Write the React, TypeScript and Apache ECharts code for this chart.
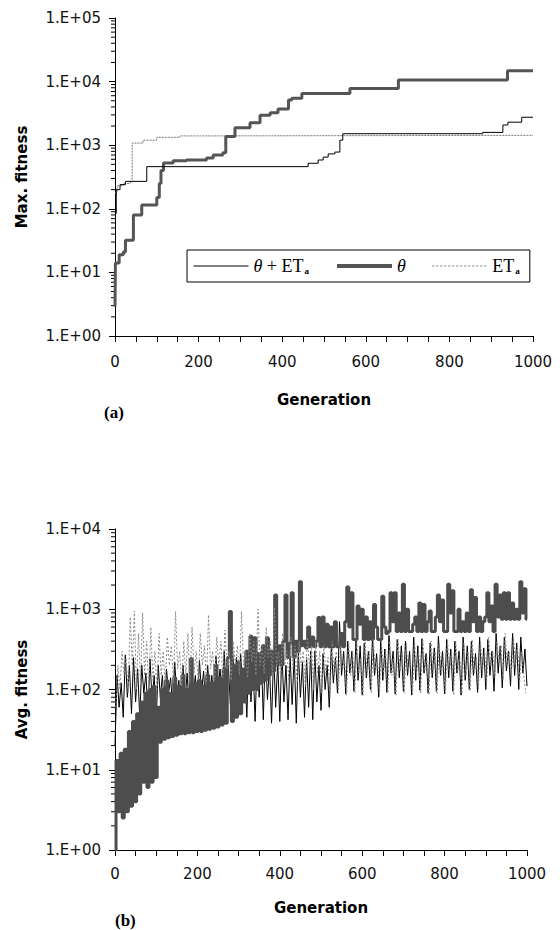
import React, { useEffect, useRef } from 'react';
import * as echarts from 'echarts';

// ---------- (a) Max. fitness : step series, [generation, value] ----------
const MAX_SUM: [number, number][] = [
  [0, 85], [3, 200], [12, 240], [25, 270], [76, 460], [462, 520], [486, 585], [498, 650],
  [510, 730], [526, 780], [538, 1200], [545, 1515], [880, 1590], [928, 2080], [940, 2300],
  [973, 2750], [1000, 2750],
];
const MAX_THETA: [number, number][] = [
  [0, 2.9], [1, 14], [10, 19], [20, 21], [25, 32], [44, 80], [64, 115], [100, 150], [106, 250],
  [110, 400], [116, 525], [139, 570], [171, 585], [219, 630], [235, 700], [258, 760], [265, 1370],
  [287, 1880], [323, 2250], [347, 2950], [371, 3250], [390, 3700], [415, 5130], [423, 5460],
  [447, 6500], [562, 7800], [678, 10600], [939, 14800], [1000, 14800],
];
const MAX_ET: [number, number][] = [
  [0, 180], [5, 230], [20, 250], [36, 265], [41, 1080], [67, 1200], [100, 1330], [155, 1400],
  [230, 1430], [1000, 1430],
];

// ---------- (b) Avg. fitness ----------
// theta: generations 0,5,10,...,1000
const AVG_THETA_STEP = 5;
const AVG_THETA: number[] = [
  1, 13, 3, 16, 2.5, 18, 3, 30, 3.5, 40, 4, 50, 5, 70, 7, 90, 6, 100, 7, 110,
  8, 60, 22, 100, 24, 130, 25, 90, 26, 140, 27, 110, 28, 150, 28, 100, 29, 240, 29, 120,
  30, 130, 30, 110, 31, 150, 32, 120, 33, 200, 34, 140, 36, 180, 38, 250, 940, 40, 200, 45,
  220, 50, 180, 70, 300, 90, 460, 100, 440, 100, 280, 120, 350, 130, 440, 150, 300, 170, 1500, 200,
  350, 200, 400, 1500, 250, 380, 1600, 250, 400, 300, 2200, 350, 400, 330, 600, 340, 450, 340, 400, 790,
  340, 800, 340, 650, 340, 600, 340, 700, 340, 340, 500, 340, 700, 1900, 600, 1600, 420, 420, 1100, 650,
  1000, 420, 800, 420, 700, 420, 1150, 600, 420, 420, 1450, 600, 500, 530, 1600, 700, 1600, 530, 900, 530,
  2050, 530, 1000, 530, 530, 650, 800, 530, 1200, 530, 1150, 530, 700, 950, 530, 530, 800, 1500, 700, 1300,
  530, 530, 2050, 900, 1700, 530, 530, 1000, 530, 700, 530, 900, 530, 1750, 700, 1400, 530, 800, 530, 700,
  800, 1600, 700, 1100, 530, 2050, 800, 1500, 750, 1600, 750, 1600, 750, 1200, 750, 1000, 750, 2200, 900, 1800,
  750,
];
// theta + ETa: generations 0,5,...,1000
const AVG_SUM_STEP = 5;
const AVG_SUM: number[] = [
  20, 150, 60, 120, 45, 270, 80, 200, 50, 250, 70, 180, 45, 200, 90, 160, 50, 240, 70, 150,
  40, 200, 80, 150, 55, 180, 90, 140, 60, 220, 80, 130, 55, 200, 70, 160, 60, 250, 85, 150,
  60, 230, 90, 170, 65, 200, 80, 150, 70, 260, 100, 180, 70, 300, 90, 200, 65, 350, 110, 250,
  60, 280, 90, 180, 45, 300, 70, 220, 40, 250, 80, 300, 42, 300, 75, 200, 38, 280, 60, 230,
  40, 300, 70, 200, 42, 260, 65, 280, 38, 300, 80, 220, 45, 250, 60, 300, 42, 300, 70, 200,
  55, 280, 100, 200, 60, 350, 120, 250, 90, 700, 150, 300, 88, 400, 160, 300, 95, 420, 130, 350,
  85, 380, 140, 300, 100, 450, 150, 280, 80, 400, 130, 320, 92, 470, 160, 300, 88, 420, 140, 350,
  95, 400, 150, 300, 85, 450, 130, 350, 98, 430, 160, 280, 90, 380, 140, 330, 95, 460, 150, 300,
  88, 420, 140, 320, 95, 400, 160, 300, 85, 450, 130, 350, 100, 400, 150, 280, 92, 450, 140, 330,
  100, 420, 150, 300, 95, 500, 160, 350, 105, 450, 170, 300, 110, 500, 150, 380, 100, 450, 160, 320,
  110,
];
// ETa: generations 2,7,...,997
const AVG_ET_START = 2;
const AVG_ET_STEP = 5;
const AVG_ET: number[] = [
  60, 200, 100, 300, 150, 250, 90, 800, 200, 950, 100, 500, 120, 900, 150, 400, 100, 600, 130, 300,
  100, 500, 150, 300, 110, 450, 200, 350, 120, 940, 180, 300, 110, 400, 150, 500, 120, 600, 160, 300,
  130, 500, 200, 350, 120, 850, 180, 300, 130, 450, 200, 400, 140, 550, 180, 300, 130, 400, 200, 350,
  150, 940, 200, 300, 140, 500, 220, 400, 150, 1000, 200, 350, 160, 600, 250, 400, 150, 1050, 200, 300,
  140, 500, 200, 300, 130, 450, 180, 350, 120, 400, 200, 300, 110, 450, 180, 350, 100, 400, 160, 300,
  90, 350, 160, 250, 80, 400, 150, 300, 90, 350, 170, 250, 85, 400, 150, 300, 90, 380, 160, 250,
  85, 400, 150, 300, 90, 420, 170, 250, 85, 380, 160, 300, 90, 400, 150, 250, 85, 420, 170, 300,
  90, 380, 160, 250, 85, 400, 150, 300, 90, 420, 170, 250, 85, 400, 160, 300, 90, 380, 150, 250,
  90, 420, 160, 300, 85, 400, 170, 250, 90, 380, 150, 300, 95, 420, 160, 250, 100, 400, 170, 300,
  120, 450, 200, 300, 140, 400, 220, 350, 130, 500, 200, 300, 150, 450, 200, 350, 120, 300, 150, 90,
];

// axis decorations
const X_LABELS = [0, 200, 400, 600, 800, 1000];
const MINOR_MULTS = [2, 3, 4, 5, 6, 7, 8, 9];
const DECADES_A = [1, 10, 100, 1000, 10000];
const DECADES_B = [1, 10, 100, 1000];

const SANS = '"DejaVu Sans", sans-serif';
const SERIF = '"Liberation Serif", "Times New Roman", serif';

const expLabel = (v: number) => {
  const e = Math.round(Math.log10(v));
  return '1.E+' + (e < 10 ? '0' : '') + e;
};

const mkX = (gi: number, margin: number, gap: number) => ({
  type: 'value',
  gridIndex: gi,
  min: 0,
  max: 1000,
  interval: 50,
  name: 'Generation',
  nameLocation: 'middle',
  nameGap: gap,
  nameTextStyle: { fontFamily: SANS, fontWeight: 'bold', fontSize: 15, color: '#000' },
  axisLine: { show: true, onZero: false, lineStyle: { color: '#000', width: 1 } },
  axisTick: { show: true, inside: false, length: 6, lineStyle: { color: '#000', width: 1 } },
  axisLabel: {
    margin,
    fontFamily: SANS,
    fontSize: 15,
    color: '#111',
    hideOverlap: false,
    formatter: (v: number) => (X_LABELS.indexOf(v) >= 0 ? String(v) : ''),
  },
  splitLine: { show: false },
});

const mkY = (gi: number, max: number, name: string) => ({
  type: 'log',
  logBase: 10,
  gridIndex: gi,
  min: 1,
  max,
  name,
  nameLocation: 'middle',
  nameGap: 86,
  nameRotate: 90,
  nameTextStyle: { fontFamily: SANS, fontWeight: 'bold', fontSize: 15, color: '#000' },
  axisLine: { show: true, lineStyle: { color: '#000', width: 1 } },
  axisTick: { show: true, inside: false, length: 6, lineStyle: { color: '#000', width: 1 } },
  axisLabel: { margin: 14, fontFamily: SANS, fontSize: 15, color: '#111', formatter: expLabel },
  splitLine: { show: false },
  minorTick: { show: false },
});

const minorTicks = (gi: number, decades: number[]) => ({
  type: 'custom',
  xAxisIndex: gi,
  yAxisIndex: gi,
  clip: false,
  silent: true,
  z: 1,
  data: decades.flatMap((d) => MINOR_MULTS.map((m) => [0, m * d])),
  renderItem: (_p: any, api: any) => {
    const p = api.coord([api.value(0), api.value(1)]);
    return {
      type: 'line',
      shape: { x1: p[0] - 4, y1: p[1], x2: p[0], y2: p[1] },
      style: { stroke: '#000', lineWidth: 1 },
    };
  },
});

const legendNames: Record<string, string> = {
  'θ+ETa': '{i|θ}{t| + ET}{s|a}',
  'θ': '{i|θ}',
  'ETa': '{t|ET}{s|a}',
};

const hiddenSymbol = { color: 'rgba(0,0,0,0)', borderColor: 'rgba(0,0,0,0)', borderWidth: 0, opacity: 0 };

const option: any = {
  animation: false,
  backgroundColor: '#fff',
  legend: {
    data: [
      { name: 'θ+ETa', itemStyle: hiddenSymbol, lineStyle: { color: '#000', width: 1 } },
      { name: 'θ', itemStyle: hiddenSymbol, lineStyle: { color: '#555', width: 4 } },
      { name: 'ETa', itemStyle: hiddenSymbol, lineStyle: { color: '#777', width: 1, type: [2, 2] } },
    ],
    left: 187,
    top: 250,
    orient: 'horizontal',
    padding: [7, 10, 7, 6],
    borderColor: '#000',
    borderWidth: 1,
    itemWidth: 55,
    itemHeight: 14,
    itemGap: 26,
    selectedMode: false,
    formatter: (n: string) => legendNames[n] || n,
    textStyle: {
      fontFamily: SERIF,
      fontSize: 18,
      color: '#000',
      rich: {
        i: { fontFamily: SERIF, fontStyle: 'italic', fontSize: 18, color: '#000' },
        t: { fontFamily: SERIF, fontSize: 18, color: '#000' },
        s: { fontFamily: SERIF, fontSize: 9, fontWeight: 'bold', color: '#000', verticalAlign: 'bottom', padding: [8, 0, 0, 1] },
      },
    },
  },
  grid: [
    { left: 115, top: 18, width: 418, height: 318, outerBoundsMode: 'none', containLabel: false },
    { left: 115, top: 529, width: 412, height: 321, outerBoundsMode: 'none', containLabel: false },
  ],
  xAxis: [mkX(0, 18, 56), mkX(1, 16, 50)],
  yAxis: [mkY(0, 100000, 'Max. fitness'), mkY(1, 10000, 'Avg. fitness')],
  series: [
    {
      name: 'θ+ETa', type: 'line', xAxisIndex: 0, yAxisIndex: 0, data: MAX_SUM, step: 'end',
      symbol: 'none', showSymbol: false, z: 4,
      lineStyle: { color: '#000', width: 1 }, itemStyle: { color: '#000' },
    },
    {
      name: 'θ', type: 'line', xAxisIndex: 0, yAxisIndex: 0, data: MAX_THETA, step: 'end',
      symbol: 'none', showSymbol: false, z: 3,
      lineStyle: { color: '#555', width: 3 }, itemStyle: { color: '#555' },
    },
    {
      name: 'ETa', type: 'line', xAxisIndex: 0, yAxisIndex: 0, data: MAX_ET, step: 'end',
      symbol: 'none', showSymbol: false, z: 2,
      lineStyle: { color: '#777', width: 1, type: [2, 1] }, itemStyle: { color: '#777' },
    },
    {
      name: 'avg θ+ETa', type: 'line', xAxisIndex: 1, yAxisIndex: 1,
      data: AVG_SUM.map((v, i) => [i * AVG_SUM_STEP, v]),
      symbol: 'none', showSymbol: false, z: 2,
      lineStyle: { color: '#000', width: 1 },
    },
    {
      name: 'avg θ', type: 'line', xAxisIndex: 1, yAxisIndex: 1, step: 'middle',
      data: AVG_THETA.map((v, i) => [i * AVG_THETA_STEP, v]),
      symbol: 'none', showSymbol: false, z: 3,
      lineStyle: { color: '#4d4d4d', width: 3 },
    },
    {
      name: 'avg ETa', type: 'line', xAxisIndex: 1, yAxisIndex: 1,
      data: AVG_ET.map((v, i) => [AVG_ET_START + i * AVG_ET_STEP, v]),
      symbol: 'none', showSymbol: false, z: 4,
      lineStyle: { color: '#888', width: 1, type: [2, 2] },
    },
    minorTicks(0, DECADES_A),
    minorTicks(1, DECADES_B),
  ],
  graphic: [
    {
      type: 'text', x: 104, y: 412,
      style: { text: '(a)', font: 'bold 17px "Liberation Serif", serif', fill: '#000', verticalAlign: 'middle' },
    },
    {
      type: 'text', x: 115, y: 920,
      style: { text: '(b)', font: 'bold 17px "Liberation Serif", serif', fill: '#000', verticalAlign: 'middle' },
    },
  ],
};

export default function App() {
  const ref = useRef<HTMLDivElement>(null);
  useEffect(() => {
    if (!ref.current) return;
    const chart = echarts.init(ref.current, null, { renderer: 'svg' });
    chart.setOption(option);
    return () => chart.dispose();
  }, []);
  return (
    <div
      ref={ref}
      style={{ position: 'absolute', left: 0, top: 0, width: 560, height: 930, background: '#fff' }}
    />
  );
}
